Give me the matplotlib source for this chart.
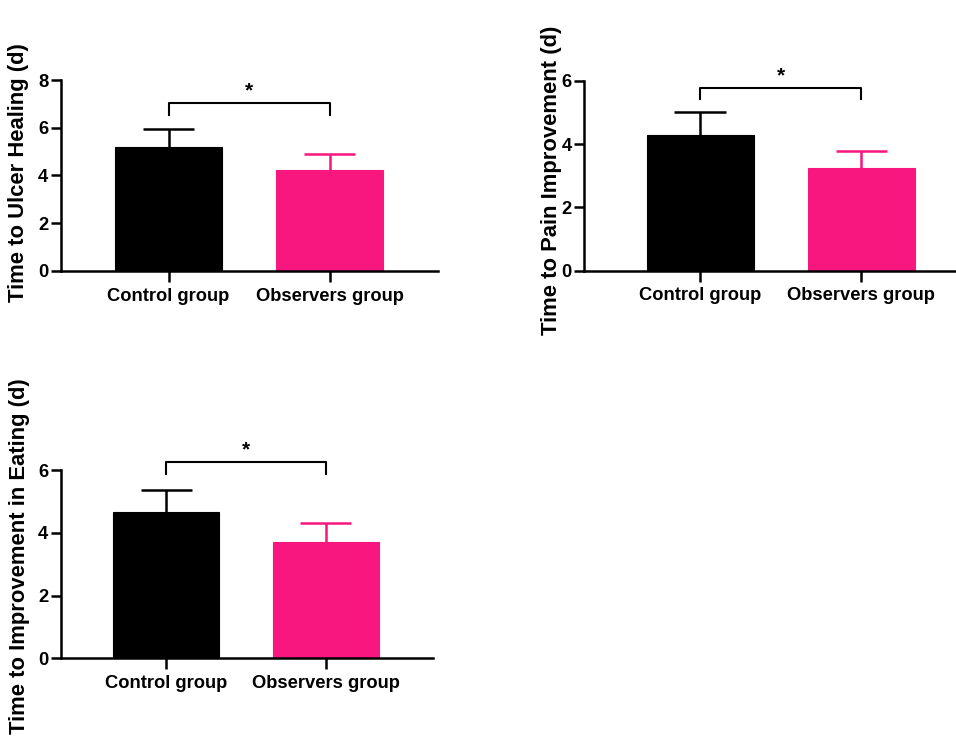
import matplotlib
matplotlib.use("Agg")
import matplotlib.pyplot as plt

groups = ["Control group", "Observers group"]
colors = ["#000000", "#F8177F"]

ulcer_mean = [5.2, 4.23]
ulcer_sd = [0.76, 0.67]
pain_mean = [4.30, 3.26]
pain_sd = [0.70, 0.51]
eat_mean = [4.65, 3.72]
eat_sd = [0.72, 0.60]

plt.rcParams['font.family'] = ['Liberation Sans', 'DejaVu Sans']
plt.rcParams['font.weight'] = 'bold'

fig = plt.figure(figsize=(9.56, 7.36), dpi=100)

panels = [
    dict(rect=[0.0638, 0.6318, 0.3944, 0.2595], mean=ulcer_mean, sd=ulcer_sd,
         ymax=8, yticks=[0, 2, 4, 6, 8], xlim=(-0.668, 1.674),
         label="Time to Ulcer Healing (d)", lab=(-0.085, 0.513),
         br=7.04, brtick=6.55),
    dict(rect=[0.6109, 0.6322, 0.388, 0.258], mean=pain_mean, sd=pain_sd,
         ymax=6, yticks=[0, 2, 4, 6], xlim=(-0.72, 1.58),
         label="Time to Pain Improvement (d)", lab=(-0.059, 0.477),
         br=5.78, brtick=5.44),
    dict(rect=[0.0638, 0.1056, 0.389, 0.2558], mean=eat_mean, sd=eat_sd,
         ymax=6, yticks=[0, 2, 4, 6], xlim=(-0.66, 1.67),
         label="Time to Improvement in Eating (d)", lab=(-0.083, 0.54),
         br=6.25, brtick=5.87),
]

x = [0, 1]
bw = 0.665
cap = 0.16
for p in panels:
    ax = fig.add_axes(p["rect"])
    ax.bar(x, p["mean"], width=bw, color=colors, edgecolor=colors, linewidth=0.8, zorder=2)
    for xi, m, s, c in zip(x, p["mean"], p["sd"], colors):
        ax.vlines(xi, m, m + s, colors=c, lw=1.8, zorder=1)
        ax.hlines(m + s, xi - cap, xi + cap, colors=c, lw=1.8, zorder=1)
    ax.set_xlim(*p["xlim"])
    ax.set_ylim(0, p["ymax"])
    ax.set_yticks(p["yticks"])
    ax.set_xticks(x)
    ax.set_xticklabels(groups, fontsize=13.2, fontweight='bold')
    ax.tick_params(axis='y', labelsize=13.2, width=1.8, length=7, pad=2)
    ax.tick_params(axis='x', width=1.8, length=8, pad=4)
    for t in ax.get_yticklabels():
        t.set_fontweight('bold')
    for s in ['top', 'right']:
        ax.spines[s].set_visible(False)
    for s in ['left', 'bottom']:
        ax.spines[s].set_linewidth(1.8)
    ax.set_ylabel(p["label"], fontsize=15.8, fontweight='bold')
    ax.yaxis.set_label_coords(*p["lab"])
    # significance bracket
    ax.plot([0, 0, 1, 1], [p["brtick"], p["br"], p["br"], p["brtick"]],
            color='black', lw=1.5, clip_on=False)
    ax.text(0.5, p["br"] + 0.1 * p["ymax"] / 8, "*", ha='center', va='bottom',
            fontsize=15, fontweight='bold', clip_on=False)

fig.savefig("out.png", dpi=100)
